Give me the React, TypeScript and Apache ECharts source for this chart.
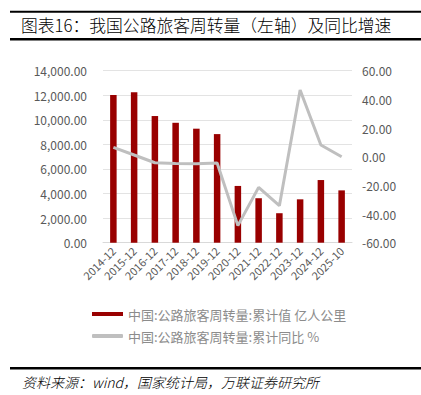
import React, { useEffect, useRef } from "react";
import * as echarts from "echarts";

const categories = ["2014-12", "2015-12", "2016-12", "2017-12", "2018-12", "2019-12", "2020-12", "2021-12", "2022-12", "2023-12", "2024-12", "2025-10"];
const turnover = [12020, 12240, 10310, 9760, 9280, 8840, 4620, 3620, 2400, 3530, 5100, 4260];
const yoy = [6.5, 1.2, -4.2, -4.7, -4.9, -4.4, -48.1, -21.4, -34.2, 46.5, 8.2, 0.0];
const leftTicks = { min: 0, max: 14000, interval: 2000 };
const rightTicks = { min: -60, max: 60, interval: 20 };

const barName = "中国:公路旅客周转量:累计值 亿人公里";
const lineName = "中国:公路旅客周转量:累计同比 %";
const titleText = "图表16：我国公路旅客周转量（左轴）及同比增速";
const sourceText = "资料来源：wind，国家统计局，万联证券研究所";

const fmt = (v: number) =>
  v.toLocaleString("en-US", { minimumFractionDigits: 2, maximumFractionDigits: 2 });

export default function App() {
  const ref = useRef<HTMLDivElement>(null);
  useEffect(() => {
    if (!ref.current) return;
    const chart = echarts.init(ref.current, null, { renderer: "svg" });
    const font = "'Noto Sans CJK SC', 'Noto Sans', sans-serif";
    chart.setOption({
      animation: false,
      backgroundColor: "#ffffff",
      textStyle: { fontFamily: font },
      grid: { left: 103, right: 69, top: 70.7, bottom: 152.3, containLabel: false },
      legend: {
        orient: "vertical",
        left: 92,
        top: 307.5,
        padding: 0,
        itemWidth: 31,
        itemHeight: 4,
        itemGap: 9,
        textStyle: { color: "#8c8c8c", fontSize: 13, fontFamily: font },
        data: [
          { name: barName, icon: "rect" },
          { name: lineName, icon: "roundRect" },
        ],
      },
      xAxis: {
        type: "category",
        data: categories,
        axisLine: { show: true, lineStyle: { color: "#d9d9d9", width: 1 } },
        axisTick: { show: false },
        axisLabel: { rotate: 45, color: "#595959", fontSize: 11, interval: 0, margin: 6 },
      },
      yAxis: [
        {
          type: "value",
          min: leftTicks.min,
          max: leftTicks.max,
          interval: leftTicks.interval,
          axisLine: { show: false },
          axisTick: { show: false },
          splitLine: { lineStyle: { color: "#e3e3e3", width: 1 } },
          axisLabel: { color: "#595959", fontSize: 12, margin: 16, formatter: (v: number) => fmt(v) },
        },
        {
          type: "value",
          min: rightTicks.min,
          max: rightTicks.max,
          interval: rightTicks.interval,
          axisLine: { show: false },
          axisTick: { show: false },
          splitLine: { show: false },
          axisLabel: { color: "#595959", fontSize: 12, margin: 10, formatter: (v: number) => fmt(v) },
        },
      ],
      series: [
        {
          name: barName,
          type: "bar",
          data: turnover,
          barWidth: 6.5,
          color: "#990000",
          itemStyle: { color: "#990000" },
          yAxisIndex: 0,
        },
        {
          name: lineName,
          type: "line",
          data: yoy,
          yAxisIndex: 1,
          color: "#bfbfbf",
          symbol: "none",
          lineStyle: { color: "#bfbfbf", width: 3 },
          itemStyle: { color: "#bfbfbf" },
          z: 5,
        },
      ],
      graphic: [
        { type: "rect", shape: { x: 10, y: 10.8, width: 411, height: 2 }, style: { fill: "#000" } },
        { type: "rect", shape: { x: 10, y: 38, width: 411, height: 2.5 }, style: { fill: "#000" } },
        {
          type: "text",
          x: 21,
          y: 25,
          style: { text: titleText, fontSize: 16.8, fontWeight: 300, fill: "#000", fontFamily: font, verticalAlign: "middle" },
        },
        { type: "rect", shape: { x: 10, y: 367, width: 411, height: 2.5 }, style: { fill: "#000" } },
        {
          type: "text",
          x: 22,
          y: 382,
          style: { text: sourceText, fontSize: 14, fontStyle: "italic", fontWeight: 300, fill: "#000", fontFamily: font, verticalAlign: "middle" },
        },
      ],
    });
    return () => chart.dispose();
  }, []);
  return <div ref={ref} style={{ position: "fixed", left: 0, top: 0, width: 421, height: 395 }} />;
}
